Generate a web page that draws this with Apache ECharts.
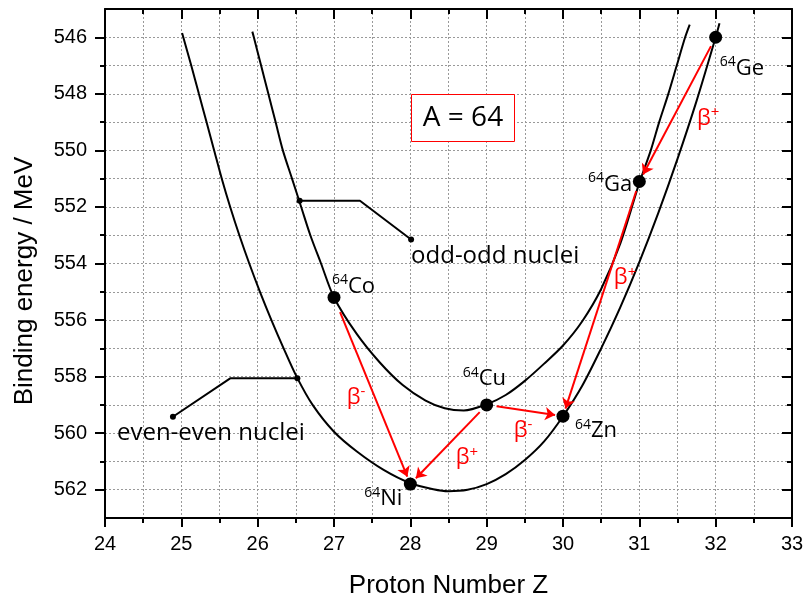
<!DOCTYPE html>
<html>
<head>
<meta charset="utf-8">
<script src="https://cdn.jsdelivr.net/npm/echarts@6/dist/echarts.min.js"></script>
<style>
  html, body { margin: 0; padding: 0; background: #fff; }
  #chart { width: 807px; height: 604px; }
</style>
</head>
<body>
<div id="chart"></div>
<script>
// Isobaric chain A = 64: binding energy of the nuclides against proton number Z.

const massNumber = 64;
const yTickValues = [546, 548, 550, 552, 554, 556, 558, 560, 562];
const yMinorTickValues = [547, 549, 551, 553, 555, 557, 559, 561];

// Nuclides of the chain
const nuclideNames = ['Co', 'Ni', 'Cu', 'Zn', 'Ga', 'Ge'];
const nuclideZ = [27, 28, 29, 30, 31, 32];
const nuclideBindingEnergy = [555.2, 561.8, 559.0, 559.4, 551.1, 546.0];

// Mass parabola of the even-even nuclei  [Z, MeV]
const evenEvenCurve = [
  [25.01, 545.85], [25.13, 547.0], [25.23, 548.0], [25.33, 549.0], [25.43, 550.0],
  [25.53, 551.0], [25.64, 552.0], [25.76, 553.0], [25.89, 554.0], [26.03, 555.0],
  [26.18, 556.0], [26.34, 557.0], [26.51, 558.0], [26.72, 559.0], [27.0, 559.95],
  [27.3, 560.65], [27.65, 561.3], [28.0, 561.77], [28.3, 561.98], [28.5, 562.05],
  [28.75, 562.0], [29.0, 561.8], [29.25, 561.45], [29.5, 560.95], [29.75, 560.3],
  [30.0, 559.4], [30.25, 558.33], [30.5, 557.0], [30.75, 555.55], [31.0, 553.95],
  [31.25, 552.2], [31.5, 550.3], [31.75, 548.25], [32.0, 546.0], [32.05, 545.5]
];

// Mass parabola of the odd-odd nuclei  [Z, MeV]
const oddOddCurve = [
  [25.93, 545.8], [25.95, 546.0], [26.045, 547.0], [26.14, 548.0], [26.235, 549.0],
  [26.33, 550.0], [26.45, 551.0], [26.57, 552.0], [26.69, 553.0], [26.83, 554.0],
  [27.0, 555.2], [27.3, 556.5], [27.6, 557.5], [27.9, 558.3], [28.2, 558.85],
  [28.45, 559.12], [28.7, 559.2], [29.0, 558.98], [29.25, 558.65], [29.5, 558.15],
  [29.75, 557.55], [30.0, 556.9], [30.25, 556.05], [30.5, 554.9], [30.75, 553.3],
  [31.0, 551.15], [31.15, 550.0], [31.26, 549.0], [31.38, 548.0], [31.49, 547.0],
  [31.6, 546.0], [31.66, 545.55]
];

// Decays: parent, daughter, mode
const decayParent = ['Ge', 'Ga', 'Co', 'Cu', 'Cu'];
const decayDaughter = ['Ga', 'Zn', 'Ni', 'Ni', 'Zn'];
const decayMode = ['+', '+', '-', '+', '-'];

// Leader lines of the two curve captions  [Z, MeV]
const oddOddPointer = [[26.55, 551.78], [27.34, 551.78], [28.01, 553.15]];
const evenEvenPointer = [[26.52, 558.06], [25.64, 558.06], [24.89, 559.42]];

// ---------------------------------------------------------------------------

const TEXT_FONT = "'Open Sans', 'Noto Sans', sans-serif";
const AXIS_FONT = "'Liberation Sans', Arial, sans-serif";
const RED = '#ff0000';

const gridLine = { show: true, lineStyle: { color: '#999999', width: 1, type: [2, 2] } };
const blackLine = { color: '#000', width: 2 };

// label placement for each nuclide, relative to its marker
const nuclideLabelPlacement = {
  Co: { align: 'left',  offset: [-2, -11] },
  Ni: { align: 'right', offset: [-8, 15] },
  Cu: { align: 'left',  offset: [-24, -26] },
  Zn: { align: 'left',  offset: [12, 15] },
  Ga: { align: 'right', offset: [-7, 3] },
  Ge: { align: 'left',  offset: [4, 31] }
};

const nuclideRich = {
  s: { fontSize: 14, fontFamily: TEXT_FONT, color: '#000', verticalAlign: 'top', lineHeight: 10 },
  e: { fontSize: 22, fontFamily: TEXT_FONT, color: '#000', lineHeight: 26 }
};

const nuclidePoints = nuclideNames.map((name, i) => {
  const p = nuclideLabelPlacement[name];
  return {
    name: name,
    value: [nuclideZ[i], nuclideBindingEnergy[i]],
    label: {
      show: true,
      position: 'inside',
      align: p.align,
      verticalAlign: 'middle',
      offset: p.offset,
      color: '#000',
      formatter: '{s|' + massNumber + '}{e|' + name + '}',
      rich: nuclideRich
    }
  };
});

function pointerData(points, caption, offset) {
  return points.map((pt, i) => {
    const end = (i === 0 || i === points.length - 1);
    const item = { value: pt, symbol: end ? 'circle' : 'none', symbolSize: end ? 6 : 0 };
    if (i === points.length - 1) {
      item.label = {
        show: true, position: 'inside', align: 'left', verticalAlign: 'middle',
        offset: offset, formatter: caption,
        fontSize: 24, fontFamily: TEXT_FONT, color: '#000'
      };
    }
    return item;
  });
}

const option = {
  animation: false,
  grid: { left: 105, right: 15, top: 9, bottom: 85, containLabel: false },
  xAxis: [
    {
      type: 'value', min: 24, max: 33, interval: 1, position: 'bottom',
      axisLine: { show: true, onZero: false, lineStyle: blackLine },
      axisTick: { show: true, inside: false, length: 9, lineStyle: blackLine },
      minorTick: { show: true, splitNumber: 2, length: 5, lineStyle: blackLine },
      axisLabel: { show: true, margin: 16, color: '#000', fontSize: 20, fontFamily: AXIS_FONT },
      splitLine: gridLine,
      minorSplitLine: gridLine,
      name: 'Proton Number Z',
      nameLocation: 'middle',
      nameGap: 55,
      nameTextStyle: { fontSize: 26, fontFamily: AXIS_FONT, color: '#000' }
    },
    {
      type: 'value', min: 24, max: 33, interval: 1, position: 'top',
      axisLine: { show: true, onZero: false, lineStyle: blackLine },
      axisTick: { show: true, inside: true, length: 10, lineStyle: blackLine },
      minorTick: { show: true, splitNumber: 2, length: 5, lineStyle: blackLine },
      axisLabel: { show: false },
      splitLine: { show: false },
      minorSplitLine: { show: false }
    }
  ],
  yAxis: [
    {
      type: 'value', min: 545, max: 563, interval: 1, inverse: true, position: 'left',
      axisLine: { show: true, onZero: false, lineStyle: blackLine },
      axisTick: { show: true, inside: false, length: 10, customValues: yTickValues, lineStyle: blackLine },
      axisLabel: { show: true, margin: 18, color: '#000', fontSize: 20, fontFamily: AXIS_FONT,
        customValues: yTickValues },
      splitLine: gridLine
    },
    {
      type: 'value', min: 545, max: 563, interval: 1, inverse: true, position: 'left',
      axisLine: { show: false, onZero: false },
      axisTick: { show: true, inside: false, length: 5, customValues: yMinorTickValues, lineStyle: blackLine },
      axisLabel: { show: false },
      splitLine: gridLine
    },
    {
      type: 'value', min: 545, max: 563, interval: 1, inverse: true, position: 'right',
      axisLine: { show: true, onZero: false, lineStyle: blackLine },
      axisTick: { show: true, inside: true, length: 10, customValues: yTickValues, lineStyle: blackLine },
      axisLabel: { show: false },
      splitLine: { show: false }
    },
    {
      type: 'value', min: 545, max: 563, interval: 1, inverse: true, position: 'right',
      axisLine: { show: false, onZero: false },
      axisTick: { show: true, inside: true, length: 5, customValues: yMinorTickValues, lineStyle: blackLine },
      axisLabel: { show: false },
      splitLine: { show: false }
    }
  ],
  series: [
    {
      name: 'even-even', type: 'line', data: evenEvenCurve, smooth: 0.3,
      symbol: 'none', silent: true, z: 3,
      lineStyle: { color: '#000', width: 2 }
    },
    {
      name: 'odd-odd', type: 'line', data: oddOddCurve, smooth: 0.3,
      symbol: 'none', silent: true, z: 3,
      lineStyle: { color: '#000', width: 2 }
    },
    {
      name: 'odd-odd caption', type: 'line', silent: true, z: 3,
      data: pointerData(oddOddPointer, 'odd-odd nuclei', [0, 17]),
      itemStyle: { color: '#000', opacity: 1 },
      lineStyle: { color: '#000', width: 2 }
    },
    {
      name: 'even-even caption', type: 'line', silent: true, z: 3,
      data: pointerData(evenEvenPointer, 'even-even nuclei', [-56, 16]),
      itemStyle: { color: '#000', opacity: 1 },
      lineStyle: { color: '#000', width: 2 }
    },
    {
      name: 'nuclides', type: 'scatter', data: nuclidePoints, silent: true, z: 6,
      symbol: 'circle', symbolSize: 13,
      itemStyle: { color: '#000', opacity: 1 }
    }
  ],
  graphic: [
    {
      type: 'text', x: 25, y: 281, rotation: Math.PI / 2, z: 50,
      style: { text: 'Binding energy / MeV', font: '26px ' + AXIS_FONT, fill: '#000',
        align: 'center', verticalAlign: 'middle' }
    },
    {
      type: 'rect', z: 40,
      shape: { x: 411.5, y: 94.5, width: 103, height: 47 },
      style: { fill: '#fff', stroke: RED, lineWidth: 1 }
    },
    {
      type: 'text', x: 463, y: 118, z: 41,
      style: { text: 'A = ' + massNumber, font: '28px ' + TEXT_FONT, fill: '#000',
        align: 'center', verticalAlign: 'middle' }
    }
  ]
};

const chart = echarts.init(document.getElementById('chart'), null, { renderer: 'canvas' });
chart.setOption(option);

// Decay arrows: drawn between nuclide markers, trimmed back from both dots.
const nuclideIndex = {};
nuclideNames.forEach((n, i) => { nuclideIndex[n] = i; });

function toPixel(v) { return chart.convertToPixel({ xAxisIndex: 0, yAxisIndex: 0 }, v); }
function fromPixel(p) { return chart.convertFromPixel({ xAxisIndex: 0, yAxisIndex: 0 }, p); }

const arrowData = [];
const betaLabels = [];
// caption placement for each decay, relative to the arrow midpoint
const betaOffset = [[20, 8], [13, -22], [-27, 3], [8, 13], [-12, 20]];

decayParent.forEach((parent, k) => {
  const a = nuclideIndex[parent], b = nuclideIndex[decayDaughter[k]];
  const p0 = toPixel([nuclideZ[a], nuclideBindingEnergy[a]]);
  const p1 = toPixel([nuclideZ[b], nuclideBindingEnergy[b]]);
  const dx = p1[0] - p0[0], dy = p1[1] - p0[1];
  const len = Math.sqrt(dx * dx + dy * dy);
  const ux = dx / len, uy = dy / len;
  const startGap = parent === 'Co' ? 16 : 10;
  const endGap = 8;
  const s = [p0[0] + ux * startGap, p0[1] + uy * startGap];
  const e = [p1[0] - ux * endGap, p1[1] - uy * endGap];
  arrowData.push({ coords: [fromPixel(s), fromPixel(e)] });
  const mid = [(s[0] + e[0]) / 2, (s[1] + e[1]) / 2];
  const off = betaOffset[k];
  const plus = decayMode[k] === '+';
  betaLabels.push({
    type: 'text', x: mid[0] + off[0], y: mid[1] + off[1], z: 45,
    style: {
      text: '{b|β}{' + (plus ? 'p' : 'm') + '|' + (plus ? '+' : '-') + '}',
      align: 'left', verticalAlign: 'middle',
      rich: {
        b: { fontSize: 22, fontFamily: TEXT_FONT, fill: RED, color: RED, lineHeight: 26 },
        p: { fontSize: 15, fontFamily: TEXT_FONT, fill: RED, color: RED, verticalAlign: 'top', lineHeight: 14 },
        m: { fontSize: 15, fontFamily: TEXT_FONT, fill: RED, color: RED, verticalAlign: 'top', lineHeight: 8 }
      }
    }
  });
});

chart.setOption({
  series: option.series.concat([{
    name: 'decays', type: 'lines', coordinateSystem: 'cartesian2d',
    xAxisIndex: 0, yAxisIndex: 0, silent: true, z: 5,
    symbol: ['none', 'arrow'], symbolSize: 10,
    lineStyle: { color: RED, width: 2, opacity: 1, curveness: 0 },
    data: arrowData
  }]),
  graphic: option.graphic.concat(betaLabels)
});
</script>
</body>
</html>
